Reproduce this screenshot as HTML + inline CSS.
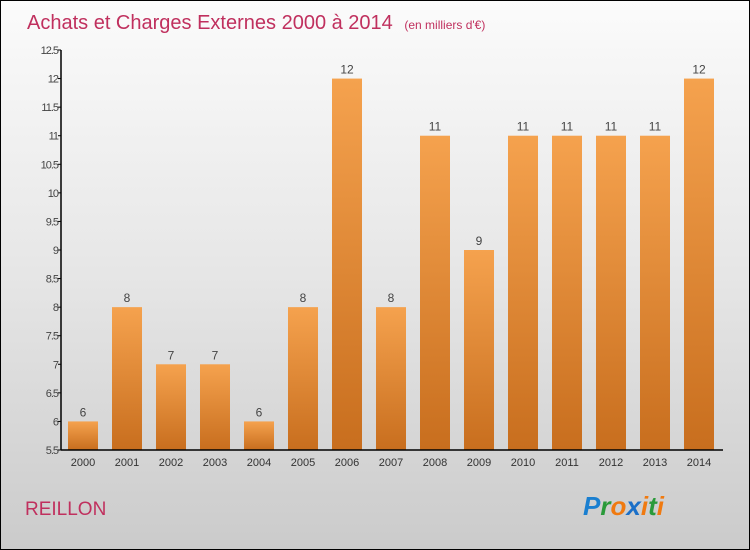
<!DOCTYPE html>
<html><head><meta charset="utf-8"><style>
body{margin:0}
#c{width:748px;height:548px;border:1px solid #000;background:linear-gradient(#fbfbfb,#e6e6e6 50%,#cbcbcb);position:relative;font-family:"Liberation Sans",sans-serif;overflow:hidden}
</style></head><body>
<div id="c">
<svg id="s" width="748" height="548" style="position:absolute;left:0;top:0">
<defs><linearGradient id="g" x1="0" y1="0" x2="0" y2="1"><stop offset="0" stop-color="#f5a24e"/><stop offset="1" stop-color="#c86e1e"/></linearGradient></defs>
<text x="26" y="28" font-size="20" fill="#c0305e">Achats et Charges Externes 2000 à 2014 <tspan font-size="12" dx="6">(en milliers d'€)</tspan></text>
<text x="24" y="514" font-size="19" fill="#c0305e">REILLON</text>
<text x="582" y="514" font-size="26" font-weight="bold" font-style="italic"><tspan fill="#1a7fd0">P</tspan><tspan fill="#2a9a3a">r</tspan><tspan fill="#f07a10">o</tspan><tspan fill="#1a6fc8">x</tspan><tspan fill="#f07a10">i</tspan><tspan fill="#2a9a3a">t</tspan><tspan fill="#f07a10">i</tspan></text>
<g id="plot"></g>
</svg>
</div>
<script>
const years=["2000","2001","2002","2003","2004","2005","2006","2007","2008","2009","2010","2011","2012","2013","2014"];
const values=[6,8,7,7,6,8,12,8,11,9,11,11,11,11,12];
const ticks=[5.5,6,6.5,7,7.5,8,8.5,9,9.5,10,10.5,11,11.5,12,12.5];
const NS="http://www.w3.org/2000/svg";
const p=document.getElementById('plot');
const x0=60,step=44,yMin=5.5,yMax=12.5,yB=449,yT=49;
const y=v=>yB-(v-yMin)/(yMax-yMin)*(yB-yT);
function mk(t,a){const e=document.createElementNS(NS,t);for(const k in a)e.setAttribute(k,a[k]);p.appendChild(e);return e;}
ticks.forEach(t=>{
const l=mk('line',{x1:x0-3,x2:x0,y1:y(t),y2:y(t),stroke:'#000'});


const tx=mk('text',{x:x0-3,y:y(t)+4,'font-size':11,'text-anchor':'end',fill:'#444','letter-spacing':'-1'});
tx.textContent=String(t);


});
values.forEach((v,i)=>{
const cx=x0+22+i*step;
const r=mk('rect',{x:cx-15,y:y(v),width:30,height:yB-y(v),fill:'url(#g)'});


const t=mk('text',{x:cx,y:y(v)-5,'font-size':12,'text-anchor':'middle',fill:'#444'});
t.textContent=v;


const xl=mk('text',{x:cx,y:yB+16,'font-size':11,'text-anchor':'middle',fill:'#333'});
xl.textContent=years[i];


});
const ya=mk('line',{x1:x0,x2:x0,y1:yT,y2:yB,stroke:'#000','stroke-width':1.5});


const xa=mk('line',{x1:x0,x2:722,y1:yB,y2:yB,stroke:'#000','stroke-width':1.5});


</script>
</body></html>
